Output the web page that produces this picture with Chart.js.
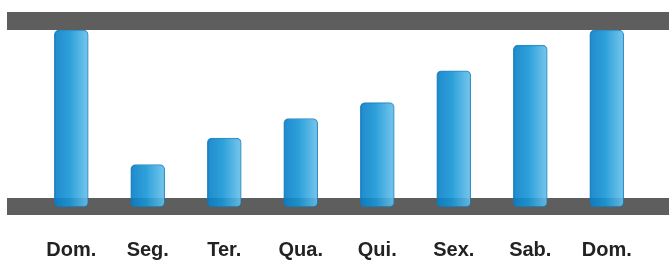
<!DOCTYPE html>
<html>
<head>
<meta charset="utf-8">
<script src="https://cdn.jsdelivr.net/npm/chart.js@4"></script>
<style>
  html, body { margin: 0; padding: 0; background: #fff; }
  #wrap { width: 669px; height: 262px; position: relative; }
</style>
</head>
<body>
<div id="wrap"><canvas id="days"></canvas></div>
<script>
// days of the week, Sunday to Sunday
var dayLabels = ['Dom.', 'Seg.', 'Ter.', 'Qua.', 'Qui.', 'Sex.', 'Sab.', 'Dom.'];
var dayValues = [100, 24, 39, 50, 59, 77, 91.5, 100];

// grey rails behind the bars, one above the chart area and one across the base
var railsPlugin = {
  id: 'rails',
  beforeDatasetsDraw: function (chart) {
    var ctx = chart.ctx;
    var area = chart.chartArea;
    ctx.save();
    ctx.fillStyle = '#5e5e5e';
    ctx.fillRect(7, area.top - 18, chart.width - 7, 18);
    ctx.fillRect(7, area.bottom - 9, chart.width - 7, 17);
    ctx.restore();
  }
};

function barFill(context) {
  var chart = context.chart;
  var x = NaN;
  if (context.dataIndex !== undefined && chart.scales && chart.scales.x) {
    x = chart.scales.x.getPixelForValue(context.dataIndex);
  }
  if (!isFinite(x)) {
    return 'rgba(22,150,214,0.9)';
  }
  var g = chart.ctx.createLinearGradient(x - 17, 0, x + 17, 0);
  g.addColorStop(0, 'rgba(8,126,198,0.9)');
  g.addColorStop(0.45, 'rgba(22,150,214,0.9)');
  g.addColorStop(1, 'rgba(104,192,234,0.9)');
  return g;
}

new Chart(document.getElementById('days'), {
  type: 'bar',
  data: {
    labels: dayLabels,
    datasets: [{
      data: dayValues,
      backgroundColor: barFill,
      borderColor: 'rgba(20,120,180,0.85)',
      borderWidth: 1,
      borderRadius: 5,
      borderSkipped: false,
      barThickness: 34
    }]
  },
  options: {
    responsive: true,
    maintainAspectRatio: false,
    animation: false,
    layout: {
      padding: { left: 33, right: 24, top: 30, bottom: 0 }
    },
    plugins: {
      legend: { display: false },
      tooltip: { enabled: false }
    },
    scales: {
      x: {
        afterFit: function (scale) {
          scale.height = 55;
        },
        grid: { display: false, drawTicks: false },
        border: { display: false },
        ticks: {
          padding: 31,
          color: '#222',
          font: { family: 'Liberation Sans, Arial, sans-serif', size: 20, weight: 'bold' }
        }
      },
      y: {
        display: false,
        min: 0,
        max: 100
      }
    }
  },
  plugins: [railsPlugin]
});
</script>
</body>
</html>
